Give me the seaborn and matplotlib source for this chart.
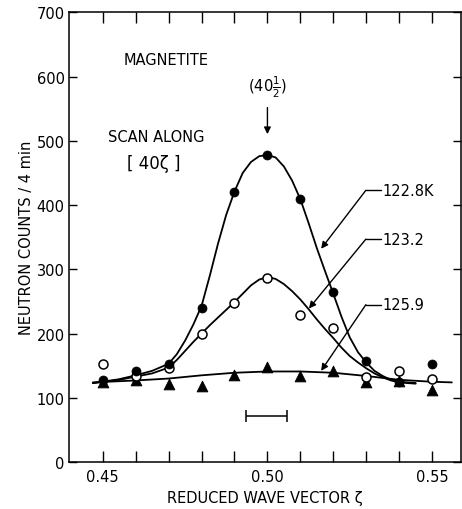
import numpy as np
import pandas as pd
import matplotlib
matplotlib.use("Agg")
import matplotlib.pyplot as plt
import seaborn as sns

# measured points (reduced wave vector vs counts / 4 min)
zeta = [0.45, 0.46, 0.47, 0.48, 0.49, 0.50, 0.51, 0.52, 0.53, 0.54, 0.55]
counts_1228 = [128, 141, 153, 240, 421, 478, 409, 265, 158, 125, 152]
counts_1232 = [153, 134, 147, 199, 248, 287, 229, 208, 132, 141, 129]
counts_1259 = [125, 128, 121, 118, 136, 148, 134, 142, 125, 126, 112]

# hand-drawn guide curves
curve_x = [0.447, 0.45, 0.455, 0.46, 0.465, 0.47, 0.4725, 0.475, 0.4775, 0.48,
           0.4825, 0.485, 0.4875, 0.49, 0.4925, 0.495, 0.4975, 0.50, 0.5025,
           0.505, 0.5075, 0.51, 0.5125, 0.515, 0.5175, 0.52, 0.5225, 0.525,
           0.5275, 0.53, 0.5325, 0.535, 0.5375, 0.54, 0.545]
curve_1228 = [123, 125, 129, 135, 142, 153, 168, 189, 214, 243,
              290, 340, 385, 421, 450, 467, 476, 478, 474,
              460, 438, 409, 372, 333, 297, 262, 226, 194,
              171, 155, 142, 134, 128, 125, 123]
curve_1232 = [123, 125, 128, 133, 138, 147, 159, 173, 187, 200,
              213, 225, 237, 249, 262, 275, 284, 288, 285,
              277, 266, 253, 238, 222, 207, 193, 178, 165,
              155, 146, 138, 132, 127, 124, 122]
bg_x = [0.447, 0.46, 0.47, 0.48, 0.49, 0.50, 0.51, 0.52, 0.53, 0.54, 0.55, 0.556]
curve_1259 = [124, 127, 130, 135, 139, 141, 141, 139, 134, 128, 125, 124]

# resolution bar
res_x = [0.4935, 0.5058]
res_y = 72

sns.set_style("ticks")
plt.rcParams["font.family"] = ["DejaVu Sans"]
plt.rcParams["xtick.direction"] = "in"
plt.rcParams["ytick.direction"] = "in"
for key in ["text.color", "axes.labelcolor", "xtick.color", "ytick.color", "axes.edgecolor"]:
    plt.rcParams[key] = "black"

fig = plt.figure(figsize=(4.62, 5.10), dpi=100)
ax = fig.add_axes([0.149, 0.092, 0.849, 0.882])

for cy in [curve_1228, curve_1232]:
    sns.lineplot(x=curve_x, y=cy, ax=ax, color="black", lw=1.3, sort=False, estimator=None)
sns.lineplot(x=bg_x, y=curve_1259, ax=ax, color="black", lw=1.3, sort=False, estimator=None)

sns.scatterplot(x=zeta, y=counts_1259, ax=ax, marker="^", s=60, color="black",
                edgecolor="black", zorder=5)
sns.scatterplot(x=zeta, y=counts_1232, ax=ax, marker="o", s=42, color="white",
                edgecolor="black", linewidth=1.1, zorder=6)
sns.scatterplot(x=zeta, y=counts_1228, ax=ax, marker="o", s=42, color="black",
                edgecolor="black", zorder=7)

ax.errorbar(np.mean(res_x), res_y, xerr=(res_x[1] - res_x[0]) / 2, color="black",
            capsize=4, lw=1.1, capthick=1.1)

ax.set_xlim(0.4397, 0.5588)
ax.set_ylim(0, 700)
ax.set_xticks([0.45, 0.50, 0.55])
ax.set_xticklabels(["0.45", "0.50", "0.55"])
ax.set_xticks(np.arange(0.45, 0.5501, 0.01), minor=True)
ax.set_yticks(range(0, 701, 100))
ax.tick_params(axis="x", which="both", length=8, width=1, top=True, labelsize=10.5, pad=5)
ax.tick_params(axis="y", length=6, width=1, right=True, labelsize=10.5, pad=3)
for s in ax.spines.values():
    s.set_linewidth(1.1)
    s.set_visible(True)

ax.set_xlabel("REDUCED WAVE VECTOR ζ", fontsize=10.5, labelpad=4)
ax.set_ylabel("NEUTRON COUNTS / 4 min", fontsize=10.5, labelpad=2)

ax.text(0.4693, 626, "MAGNETITE", ha="center", va="center", fontsize=10.5)
ax.text(0.4663, 507, "SCAN ALONG", ha="center", va="center", fontsize=10.5)
ax.text(0.4655, 466, "[ 40ζ ]", ha="center", va="center", fontsize=12)
ax.text(0.50, 585, r"(40$\frac{1}{2}$)", ha="center", va="center", fontsize=10.5)
ax.annotate("", xy=(0.50, 506), xytext=(0.50, 556),
            arrowprops=dict(arrowstyle="-|>", color="black", lw=1, mutation_scale=10))

labels = [("122.8K", 423, (0.5163, 332)),
          ("123.2", 347, (0.5126, 239)),
          ("125.9", 245, (0.5163, 142))]
for txt, ly, tip in labels:
    ax.text(0.5348, ly, txt, ha="left", va="center", fontsize=10.5)
    ax.plot([0.5299, 0.5344], [ly, ly], color="black", lw=1)
    ax.annotate("", xy=tip, xytext=(0.5299, ly),
                arrowprops=dict(arrowstyle="-|>", color="black", lw=1,
                                mutation_scale=10, shrinkA=0, shrinkB=0))

fig.savefig("out.png", dpi=100)
